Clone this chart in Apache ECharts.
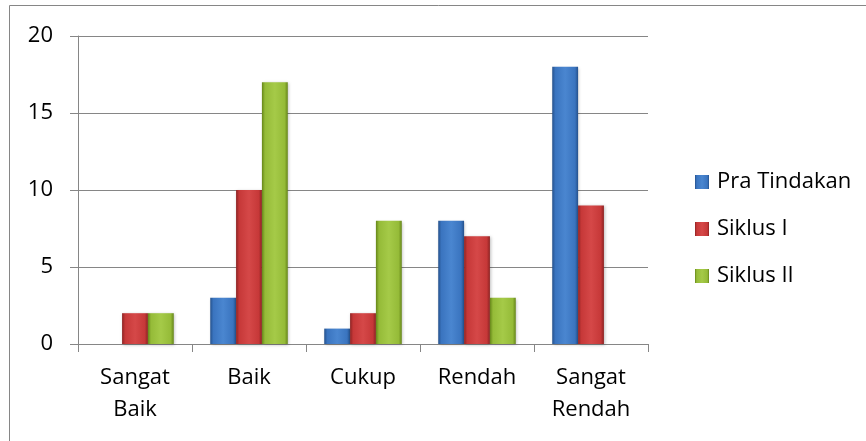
<!DOCTYPE html>
<html><head><meta charset="utf-8">
<script src="https://cdn.jsdelivr.net/npm/echarts@6/dist/echarts.min.js"></script>
<style>html,body{margin:0;padding:0;background:#fff}#c{width:866px;height:441px}</style>
</head><body><div id="c"></div>
<script>
const categories = ['Sangat\nBaik', 'Baik', 'Cukup', 'Rendah', 'Sangat\nRendah'];
const seriesNames = ['Pra Tindakan', 'Siklus I', 'Siklus II'];
const praTindakan = [0, 3, 1, 8, 18];
const siklusI = [2, 10, 2, 7, 9];
const siklusII = [2, 17, 8, 3, 0];
const yTicks = [0, 5, 10, 15, 20];

const palettes = [
  ['#25518c', '#3a74bf', '#4a86d0', '#25518c'],
  ['#8c2222', '#c63838', '#d54848', '#8c2222'],
  ['#668619', '#95bb38', '#a5ca48', '#668619']
];
function grad(p) {
  return new echarts.graphic.LinearGradient(0, 0, 1, 0, [
    {offset: 0, color: p[0]}, {offset: 0.12, color: p[1]},
    {offset: 0.5, color: p[2]}, {offset: 0.88, color: p[1]}, {offset: 1, color: p[3]}
  ]);
}
const data = [praTindakan, siklusI, siklusII];
const font = '"Open Sans", "Liberation Sans", sans-serif';
const chart = echarts.init(document.getElementById('c'), null, {renderer: 'canvas'});
chart.setOption({
  animation: false,
  textStyle: {fontFamily: font},
  graphic: [{type: 'rect', shape: {x: 9.5, y: 5.5, width: 900, height: 500}, style: {fill: 'none', stroke: '#868686', lineWidth: 1}, silent: true}],
  grid: {left: 78, top: 36, right: 218, bottom: 97, containLabel: false},
  legend: {
    orient: 'vertical', left: 690, top: 166, itemWidth: 14, itemHeight: 14, itemGap: 25,
    icon: 'rect', data: seriesNames,
    textStyle: {fontFamily: font, fontSize: 22, color: '#000', padding: [0, 0, 0, 3]}
  },
  xAxis: {
    type: 'category', data: categories,
    axisLine: {lineStyle: {color: '#868686', width: 1}},
    axisTick: {show: true, length: 8, lineStyle: {color: '#868686'}},
    axisLabel: {fontFamily: font, fontSize: 22, color: '#000', margin: 18, lineHeight: 32, interval: 0}
  },
  yAxis: {
    type: 'value', min: 0, max: 20, interval: 5,
    axisLine: {show: true, lineStyle: {color: '#868686'}},
    axisTick: {show: true, length: 8, lineStyle: {color: '#868686'}},
    splitLine: {lineStyle: {color: '#868686', width: 1}},
    axisLabel: {fontFamily: font, fontSize: 22, color: '#000', margin: 25,
      formatter: v => yTicks.includes(v) ? String(v) : ''}
  },
  series: seriesNames.map((n, i) => ({
    name: n, type: 'bar', data: data[i], barGap: '0%', barCategoryGap: '32%',
    itemStyle: {color: grad(palettes[i]), borderWidth: 0,
      shadowColor: 'rgba(0,0,0,0.25)', shadowBlur: 3, shadowOffsetX: 1, shadowOffsetY: 1}
  }))
});
</script></body></html>
